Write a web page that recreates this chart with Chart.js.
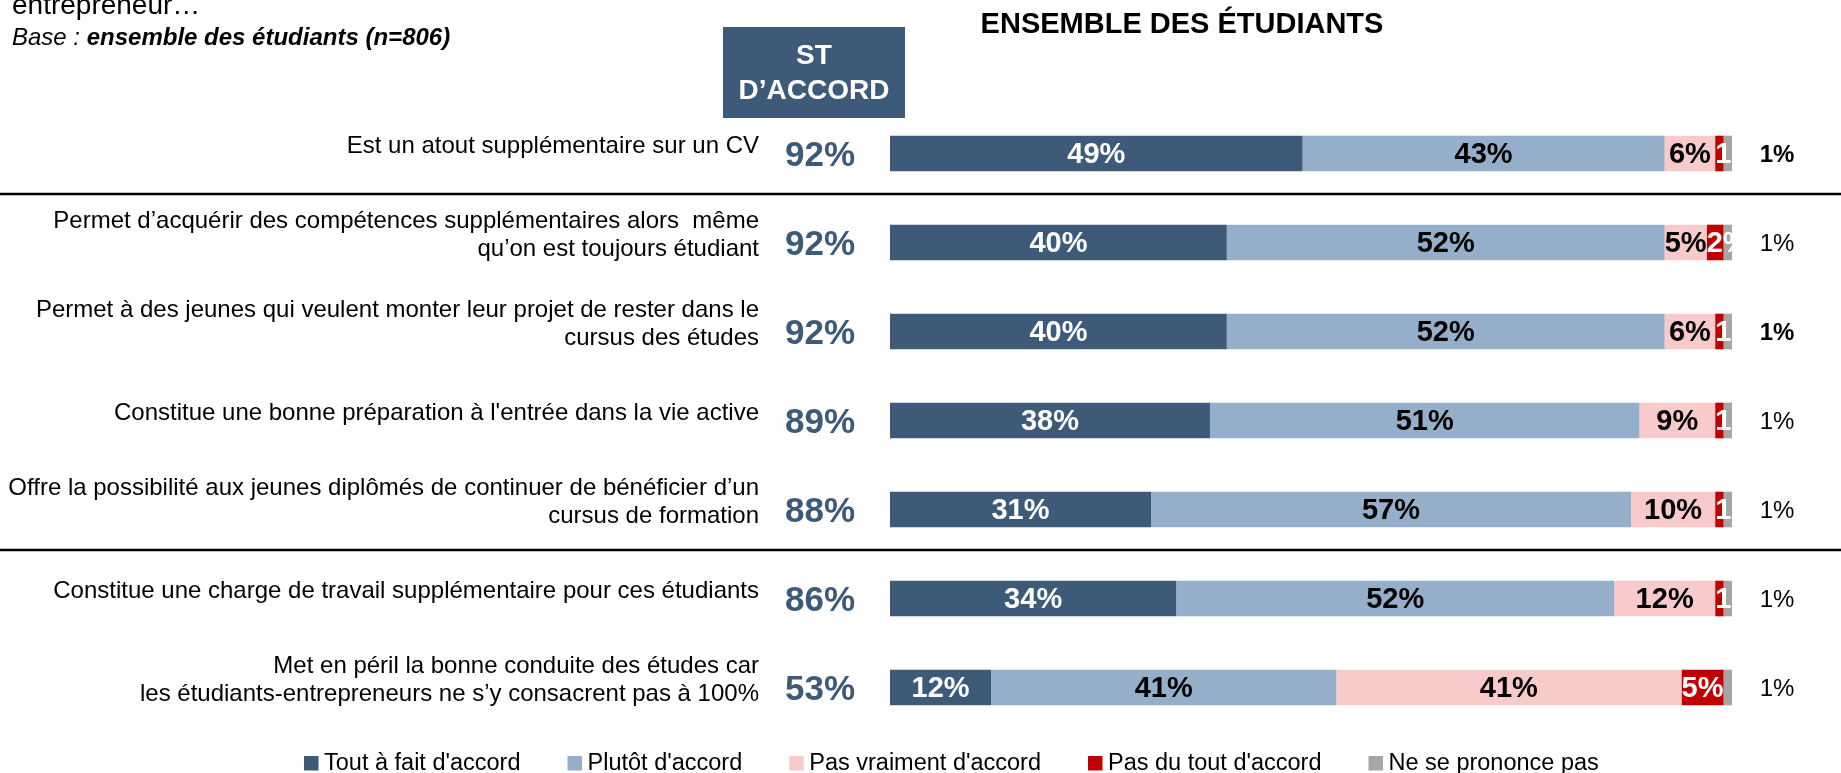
<!DOCTYPE html>
<html>
<head>
<meta charset="utf-8">
<script src="https://cdn.jsdelivr.net/npm/chart.js@4.4.0/dist/chart.umd.min.js"></script>
<style>
html, body { margin: 0; padding: 0; background: #fff; overflow: hidden; }
#wrap { position: relative; width: 1841px; height: 773px; }
</style>
</head>
<body>
<div id="wrap"><canvas id="chart" width="1841" height="773"></canvas></div>
<script>
var categories = [
	'Est un atout supplémentaire sur un CV',
	['Permet d’acquérir des compétences supplémentaires alors  même', 'qu’on est toujours étudiant'],
	['Permet à des jeunes qui veulent monter leur projet de rester dans le', 'cursus des études'],
	"Constitue une bonne préparation à l'entrée dans la vie active",
	['Offre la possibilité aux jeunes diplômés de continuer de bénéficier d’un', 'cursus de formation'],
	'Constitue une charge de travail supplémentaire pour ces étudiants',
	['Met en péril la bonne conduite des études car', 'les étudiants-entrepreneurs ne s’y consacrent pas à 100%']
];
var toutAFait   = [49, 40, 40, 38, 31, 34, 12];
var plutot      = [43, 52, 52, 51, 57, 52, 41];
var pasVraiment = [6, 5, 6, 9, 10, 12, 41];
var pasDuTout   = [1, 2, 1, 1, 1, 1, 5];
var nsp         = [1, 1, 1, 1, 1, 1, 1];
var stAccord    = [92, 92, 92, 89, 88, 86, 53];
var seriesNames = ["Tout à fait d'accord", "Plutôt d'accord", "Pas vraiment d'accord", "Pas du tout d'accord", "Ne se prononce pas"];
var groupBreaks = [1, 5];   // a rule is drawn above these rows
var nspBold = [0, 2];       // rows whose outside value is bold

var FONT = "'Liberation Sans', Arial, sans-serif";
var DARK = '#3d5a79';
Chart.defaults.font.family = FONT;

var colors = [DARK, '#95afca', '#f8caca', '#c00000', '#a6a6a6'];
var labelColors = ['#fff', '#000', '#000', '#fff', null];
var series = [toutAFait, plutot, pasVraiment, pasDuTout, nsp];

var overlay = {
	id: 'overlay',
	afterDatasetsDraw: function (chart) {
		var c = chart.ctx, area = chart.chartArea;
		c.save();
		c.font = 'bold 29px ' + FONT;
		c.textBaseline = 'middle';
		chart.data.datasets.forEach(function (ds, i) {
			if (!ds.labelColor) return;
			chart.getDatasetMeta(i).data.forEach(function (bar, j) {
				var txt = ds.data[j] + '%';
				var left = bar.base, right = bar.x;
				var tw = c.measureText(txt).width;
				c.save();
				c.beginPath();
				c.rect(left, bar.y - bar.height / 2, area.right - left, bar.height);
				c.clip();
				c.fillStyle = ds.labelColor;
				if (tw <= right - left) {
					c.textAlign = 'center';
					c.fillText(txt, (left + right) / 2, bar.y + 1);
				} else {
					c.textAlign = 'left';
					c.fillText(txt, left, bar.y + 1);
				}
				c.restore();
			});
		});
		c.restore();
	},
	afterDraw: function (chart) {
		var c = chart.ctx, y = chart.scales.y;
		c.save();

		// header
		c.fillStyle = '#000';
		c.textAlign = 'left';
		c.textBaseline = 'alphabetic';
		c.font = '28px ' + FONT;
		c.fillText('entrepreneur…', 12, 14);
		c.font = 'italic 24px ' + FONT;
		c.fillText('Base : ', 12, 45);
		var bw = c.measureText('Base : ').width;
		c.font = 'italic bold 24px ' + FONT;
		c.fillText('ensemble des étudiants (n=806)', 12 + bw, 45);

		c.textAlign = 'center';
		c.textBaseline = 'middle';
		c.font = 'bold 29px ' + FONT;
		c.fillText('ENSEMBLE DES ÉTUDIANTS', 1182, 25);

		c.font = 'bold 28px ' + FONT;
		c.fillStyle = DARK;
		c.fillRect(723, 27, 182, 91);
		c.fillStyle = '#fff';
		c.fillText('ST', 814, 56);
		c.fillText('D’ACCORD', 814, 91);

		// totals and outside NSP values
		stAccord.forEach(function (v, j) {
			var py = y.getPixelForValue(j);
			c.fillStyle = DARK;
			c.font = 'bold 35px ' + FONT;
			c.fillText(v + '%', 820, py + 3);
			c.fillStyle = '#000';
			c.font = (nspBold.indexOf(j) >= 0 ? 'bold ' : '') + '24px ' + FONT;
			c.fillText(nsp[j] + '%', 1777, py + 2);
		});

		// group rules
		c.strokeStyle = '#000';
		c.lineWidth = 2.5;
		groupBreaks.forEach(function (j) {
			var ly = (y.getPixelForValue(j - 1) + y.getPixelForValue(j)) / 2 - 4;
			c.beginPath();
			c.moveTo(0, ly);
			c.lineTo(chart.width, ly);
			c.stroke();
		});

		// legend
		var lx = 304;
		c.textAlign = 'left';
		c.textBaseline = 'alphabetic';
		c.font = '23.5px ' + FONT;
		chart.data.datasets.forEach(function (ds) {
			c.fillStyle = ds.backgroundColor;
			c.fillRect(lx, 756, 14.5, 14.5);
			c.fillStyle = '#000';
			c.fillText(ds.label, lx + 20, 770);
			lx += 20 + c.measureText(ds.label).width + 47;
		});
		c.restore();
	}
};

var ctx = document.getElementById('chart').getContext('2d');
var chart = new Chart(ctx, {
	type: 'bar',
	data: {
		labels: categories,
		datasets: series.map(function (d, i) {
			return {
				label: seriesNames[i],
				data: d,
				backgroundColor: colors[i],
				labelColor: labelColors[i],
				borderWidth: 0,
				categoryPercentage: 1,
				barPercentage: 0.4
			};
		})
	},
	options: {
		indexAxis: 'y',
		responsive: false,
		animation: false,
		layout: { padding: { top: 109, bottom: 41, left: 0, right: 109 } },
		scales: {
			x: { stacked: true, min: 0, max: 100, display: false },
			y: {
				stacked: true,
				grid: { display: false, drawTicks: false },
				border: { display: false },
				ticks: {
					padding: 131,
					labelOffset: -7,
					color: '#000',
					font: { size: 24, lineHeight: 1.18 }
				},
				afterFit: function (s) {
					s.width = 890;
					s.paddingTop = 0;
					s.paddingBottom = 0;
				}
			}
		},
		plugins: {
			legend: { display: false },
			tooltip: { enabled: false }
		}
	},
	plugins: [overlay]
});
</script>
</body>
</html>
